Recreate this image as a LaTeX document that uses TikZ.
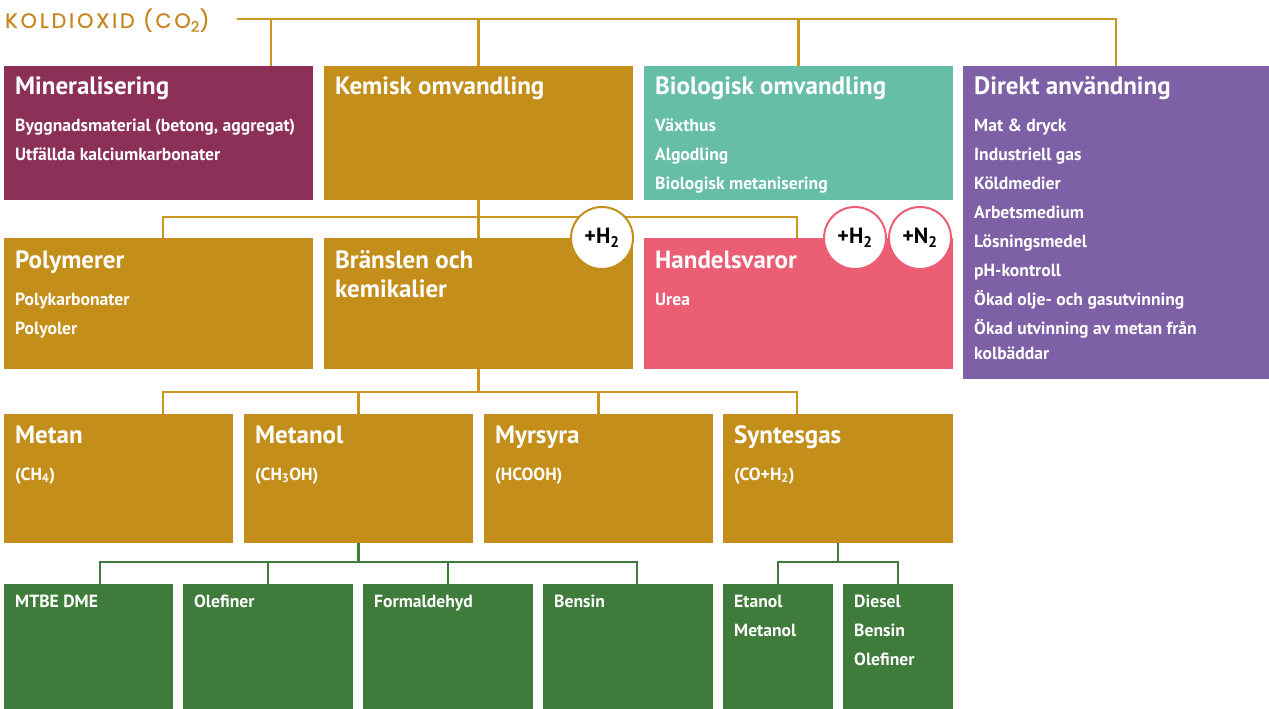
\documentclass[tikz,border=0pt]{standalone}
\usepackage{fontspec}
\setmainfont{PT Sans}
\newfontfamily\headfont{Poppins}[FakeBold=0.6]
\usetikzlibrary{calc}
\definecolor{mineralcol}{HTML}{8C3058}
\definecolor{goldcol}{HTML}{C38E1A}
\definecolor{tealcol}{HTML}{65BEA5}
\definecolor{purplecol}{HTML}{7E60A6}
\definecolor{pinkcol}{HTML}{EB5E74}
\definecolor{greencol}{HTML}{3F7B3A}
\definecolor{headcol}{HTML}{C8841E}
\definecolor{linecol}{HTML}{C9961F}
\tikzstyle{box}=[rectangle, anchor=north west, inner sep=0pt, outer sep=0pt]
\tikzstyle{title}=[anchor=base west, inner sep=0pt, text=white, font=\bfseries\fontsize{25}{28}\selectfont]
\tikzstyle{item}=[anchor=base west, inner sep=0pt, text=white, font=\bfseries\fontsize{17.6}{20}\selectfont]
\tikzstyle{badge}=[circle, draw, line width=2pt, fill=white, minimum size=62pt, inner sep=0pt, font=\bfseries\fontsize{22}{24}\selectfont]

\begin{document}
\begin{tikzpicture}[x=1pt, y=-1pt]
  \useasboundingbox (0,0) rectangle (1269,709);
  % heading
  \node[anchor=base west, inner sep=0pt, text=headcol, font=\headfont\fontsize{21}{24}\selectfont\addfontfeature{LetterSpace=13}] (co2) at (5,28) {KOLDIOXID (CO\textsubscript{2})};
  \coordinate (co2-end) at (237,19);
  \coordinate (j-min) at (271,19);

  % boxes
  \node[box, fill=mineralcol, minimum width=309, minimum height=134] (mineral) at (4,66) {};
  \node[box, fill=goldcol, minimum width=309, minimum height=134] (kemisk) at (324,66) {};
  \node[box, fill=tealcol, minimum width=309, minimum height=134] (bio) at (644,66) {};
  \node[box, fill=purplecol, minimum width=306, minimum height=313] (direkt) at (963,66) {};
  \node[box, fill=goldcol, minimum width=309, minimum height=131] (polymer) at (4,238) {};
  \node[box, fill=goldcol, minimum width=309, minimum height=131] (braensle) at (324,238) {};
  \node[box, fill=pinkcol, minimum width=309, minimum height=131] (handel) at (644,238) {};
  \node[box, fill=goldcol, minimum width=229, minimum height=129] (metan) at (4,414) {};
  \node[box, fill=goldcol, minimum width=229, minimum height=129] (metanol) at (244,414) {};
  \node[box, fill=goldcol, minimum width=229, minimum height=129] (myrsyra) at (484,414) {};
  \node[box, fill=goldcol, minimum width=230, minimum height=129] (syntes) at (723,414) {};
  \node[box, fill=greencol, minimum width=169, minimum height=125] (mtbe) at (4,584) {};
  \node[box, fill=greencol, minimum width=170, minimum height=125] (olefin) at (183,584) {};
  \node[box, fill=greencol, minimum width=170, minimum height=125] (formald) at (363,584) {};
  \node[box, fill=greencol, minimum width=170, minimum height=125] (bensin) at (543,584) {};
  \node[box, fill=greencol, minimum width=110, minimum height=125] (etanol) at (723,584) {};
  \node[box, fill=greencol, minimum width=110, minimum height=125] (diesel) at (843,584) {};

  % connectors
  \begin{scope}[every path/.style={draw=linecol, line width=2.5pt}]
    \draw (co2-end) -| (direkt.north);
    \draw (j-min) -- (j-min |- mineral.north);
    \draw (kemisk.north) -- (kemisk.north |- co2-end);
    \draw (bio.north) -- (bio.north |- co2-end);
    \draw (kemisk.south) -- (braensle.north);
    \coordinate (k2) at (479,217);
    \draw ([xshift=4.5pt]polymer.north) |- (k2) -| ([xshift=-1.5pt]handel.north);
    \draw (braensle.south) -- ++(0,23) coordinate (k3);
    \draw ([xshift=44.5pt]metan.north) |- (k3) -| ([xshift=-41pt]syntes.north);
    \draw (metanol.north) -- (metanol.north |- k3);
    \draw (myrsyra.north) -- (myrsyra.north |- k3);
  \end{scope}
  \begin{scope}[every path/.style={draw=greencol, line width=2.5pt}]
    \draw (metanol.south) -- ++(0,19) coordinate (k4);
    \draw ([xshift=11.5pt]mtbe.north) |- (k4) -| ([xshift=9pt]bensin.north);
    \draw (olefin.north) -- (olefin.north |- k4);
    \draw (formald.north) -- (formald.north |- k4);
    \draw (syntes.south) -- ++(0,19) coordinate (k5);
    \draw (etanol.north) |- (k5) -| (diesel.north);
  \end{scope}

  % badges
  \node[badge, draw=goldcol] (h2-a) at (602,238) {+H\textsubscript{2}};
  \node[badge, draw=pinkcol] (h2-b) at (855,238) {+H\textsubscript{2}};
  \node[badge, draw=pinkcol] (n2) at (920,238) {+N\textsubscript{2}};

  % texts, row 1
  \node[title] (mineral-t) at (15,94) {Mineralisering};
  \node[item] (mineral-1) at (15,131) {Byggnadsmaterial (betong, aggregat)};
  \node[item] (mineral-2) at (15,160) {Utfällda kalciumkarbonater};
  \node[title] (kemisk-t) at (335,94) {Kemisk omvandling};
  \node[title] (bio-t) at (655,94) {Biologisk omvandling};
  \foreach \t [count=\i from 0] in {Växthus, Algodling, Biologisk metanisering}
    \node[item] (bio-\i) at (655,131+29*\i) {\t};
  \node[title] (direkt-t) at (974,94) {Direkt användning};
  \foreach \t [count=\i from 0] in {Mat \& dryck, Industriell gas, Köldmedier, Arbetsmedium, Lösningsmedel, pH-kontroll, Ökad olje- och gasutvinning, Ökad utvinning av metan från}
    \node[item] (direkt-\i) at (974,131+29*\i) {\t};
  \node[item] (direkt-8) at (974,359) {kolbäddar};

  % row 2
  \node[title] (polymer-t) at (15,268) {Polymerer};
  \node[item] (polymer-1) at (15,305) {Polykarbonater};
  \node[item] (polymer-2) at (15,334) {Polyoler};
  \node[title] (braensle-t) at (335,268) {Bränslen och};
  \node[title] (braensle-t2) at (335,297) {kemikalier};
  \node[title] (handel-t) at (655,268) {Handelsvaror};
  \node[item] (handel-1) at (655,305) {Urea};

  % row 3
  \node[title] (metan-t) at (15,443) {Metan};
  \node[item] (metan-1) at (15,480) {(CH\textsubscript{4})};
  \node[title] (metanol-t) at (255,443) {Metanol};
  \node[item] (metanol-1) at (255,480) {(CH\textsubscript{3}OH)};
  \node[title] (myrsyra-t) at (495,443) {Myrsyra};
  \node[item] (myrsyra-1) at (495,480) {(HCOOH)};
  \node[title] (syntes-t) at (734,443) {Syntesgas};
  \node[item] (syntes-1) at (734,480) {(CO+H\textsubscript{2})};

  % row 4
  \node[item] (mtbe-1) at (15,607) {MTBE DME};
  \node[item] (olefin-1) at (194,607) {Olefiner};
  \node[item] (formald-1) at (374,607) {Formaldehyd};
  \node[item] (bensin-1) at (554,607) {Bensin};
  \node[item] (etanol-1) at (734,607) {Etanol};
  \node[item] (etanol-2) at (734,636) {Metanol};
  \node[item] (diesel-1) at (854,607) {Diesel};
  \node[item] (diesel-2) at (854,636) {Bensin};
  \node[item] (diesel-3) at (854,665) {Olefiner};
\end{tikzpicture}
\end{document}
